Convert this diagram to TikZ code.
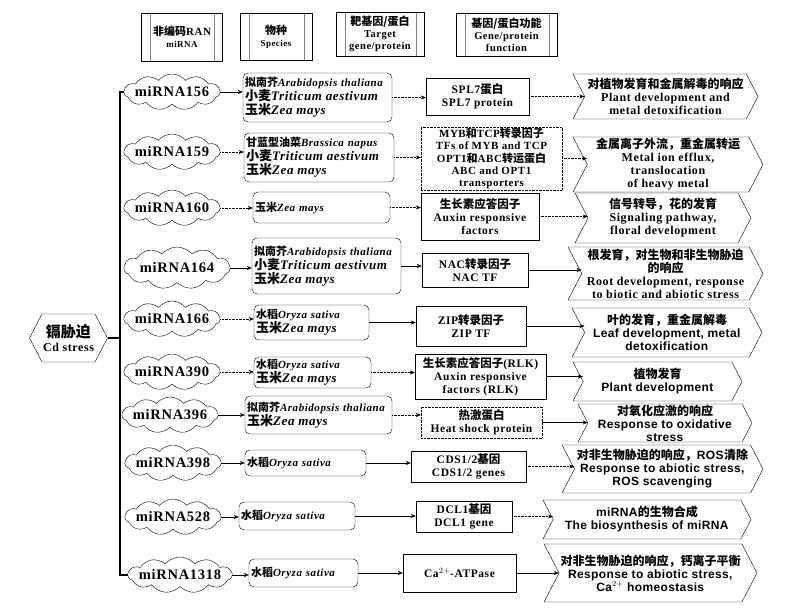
\documentclass[tikz,border=0pt]{standalone}
\usepackage{fontspec}
\setmainfont{Liberation Serif}[LetterSpace=5]
\setsansfont{Liberation Sans}[LetterSpace=3]
\newfontfamily\cjk{Noto Sans CJK SC}
\usetikzlibrary{arrows.meta, shapes.geometric, shapes.symbols, positioning}
\newcommand{\zh}[1]{{\cjk\bfseries #1}}
\newcommand{\sps}[2]{{\fontsize{11}{14}\selectfont\zh{#1}\textit{#2}}}
\newcommand{\spl}[2]{{\fontsize{13}{14}\selectfont\zh{#1}\textit{#2}}}

\begin{document}
\begin{tikzpicture}[
    x=1pt, y=-1pt,
    head/.style={rectangle, draw, align=center, inner sep=1pt, font=\bfseries\fontsize{10.5}{12}\selectfont,
        path picture={\draw[gray] ([xshift=9pt]path picture bounding box.north west) -- ([xshift=9pt]path picture bounding box.south west)
            ([xshift=-8pt]path picture bounding box.north east) -- ([xshift=-8pt]path picture bounding box.south east);}},
    stress/.style={signal, signal to=west and east, signal pointer angle=125, draw, align=center, inner sep=1pt, font=\bfseries\fontsize{12}{14}\selectfont},
    mir/.style={cloud, cloud puffs=11, cloud puff arc=100, aspect=2.6, draw, inner sep=0pt, minimum width=96pt, minimum height=36pt,
        label={[font=\bfseries\fontsize{14.5}{15}\selectfont]center:#1}},
    species/.style={rectangle, rounded corners=5pt, draw, align=left, inner sep=2pt, font=\bfseries\fontsize{11.5}{14}\selectfont},
    target/.style={rectangle, draw, align=center, inner sep=1pt, font=\bfseries\fontsize{11.5}{13}\selectfont},
    func/.style={signal, signal from=west, signal to=east, signal pointer angle=125, draw, align=center, inner sep=0pt, font=\bfseries\fontsize{12}{13}\selectfont},
    trunk/.style={line width=1.1pt},
    arrow/.style={-{Stealth[length=5pt, width=4pt]}},
    dotarrow/.style={arrow, densely dotted}
]
    \useasboundingbox (0,0) rectangle (812,611);

    \node[head, minimum width=81pt, minimum height=48pt] (hmir) at (182,37) {{\fontsize{11}{13}\selectfont\zh{非编码}RAN}\\{\fontsize{9}{11}\selectfont miRNA}};
    \node[head, minimum width=72pt, minimum height=47pt] (hsp) at (276,36.5) {{\fontsize{11}{13}\selectfont\zh{物种}}\\{\fontsize{9}{11}\selectfont Species}};
    \node[head, minimum width=88pt, minimum height=44pt] (htar) at (380,34) {{\fontsize{11}{13}\selectfont\zh{靶基因/蛋白}}\\Target\\gene/protein};
    \node[head, minimum width=101pt, minimum height=43pt] (hfun) at (506.5,34.5) {{\fontsize{11}{13}\selectfont\zh{基因/蛋白功能}}\\Gene/protein\\function};

    \node[stress, minimum width=77pt, minimum height=48pt] (cd) at (68.5,338) {{\fontsize{15}{17}\selectfont\zh{镉胁迫}}\\Cd stress};
    \coordinate (hub) at (120,338);

    \node[mir=miRNA156] (c156) at (172,92) {};
    \node[mir=miRNA159] (c159) at (172,152) {};
    \node[mir=miRNA160] (c160) at (172,208) {};
    \node[mir=miRNA164, minimum width=106pt, minimum height=42pt] (c164) at (177,268) {};
    \node[mir=miRNA166] (c166) at (172,319) {};
    \node[mir=miRNA390] (c390) at (172,372) {};
    \node[mir=miRNA396] (c396) at (170,415) {};
    \node[mir=miRNA398] (c398) at (173,463) {};
    \node[mir=miRNA528] (c528) at (173,517) {};
    \node[mir=miRNA1318, minimum width=104pt] (c1318) at (180,575) {};

    \node[species, text width=145pt, minimum height=49pt] (s156) at (317.5,97.5) {\sps{拟南芥}{Arabidopsis thaliana}\\\spl{小麦}{Triticum aestivum}\\\spl{玉米}{Zea mays}};
    \node[species, text width=146pt, minimum height=49pt] (s159) at (319,157.5) {\sps{甘蓝型油菜}{Brassica napus}\\\spl{小麦}{Triticum aestivum}\\\spl{玉米}{Zea mays}};
    \node[species, text width=133pt, minimum height=31pt] (s160) at (321.5,207.5) {\sps{玉米}{Zea mays}};
    \node[species, text width=145pt, minimum height=56pt] (s164) at (326.5,266) {\sps{拟南芥}{Arabidopsis thaliana}\\\spl{小麦}{Triticum aestivum}\\\spl{玉米}{Zea mays}};
    \node[species, text width=111pt, minimum height=35pt] (s166) at (311.5,322.5) {\sps{水稻}{Oryza sativa}\\\spl{玉米}{Zea mays}};
    \node[species, text width=113pt, minimum height=31pt] (s390) at (312.5,372.5) {\sps{水稻}{Oryza sativa}\\\spl{玉米}{Zea mays}};
    \node[species, text width=143pt, minimum height=38pt] (s396) at (318.5,415) {\sps{拟南芥}{Arabidopsis thaliana}\\\spl{玉米}{Zea mays}};
    \node[species, text width=117pt, minimum height=26pt] (s398) at (305.5,463) {\sps{水稻}{Oryza sativa}};
    \node[species, text width=112pt, minimum height=28pt] (s528) at (297,516) {\sps{水稻}{Oryza sativa}};
    \node[species, text width=105pt, minimum height=28pt] (s1318) at (303.5,573) {\sps{水稻}{Oryza sativa}};

    \node[target, minimum width=103pt, minimum height=37pt] (t156) at (477.5,96.5) {SPL7\zh{蛋白}\\SPL7 protein};
    \node[target, densely dotted, font=\bfseries\fontsize{11}{12.3}\selectfont, minimum width=141pt, minimum height=63pt] (t159) at (491.5,158.5) {MYB\zh{和}TCP\zh{转录因子}\\TFs of MYB and TCP\\OPT1\zh{和}ABC\zh{转运蛋白}\\ABC and OPT1\\transporters};
    \node[target, minimum width=118pt, minimum height=47pt] (t160) at (480,216.5) {\zh{生长素应答因子}\\Auxin responsive\\factors};
    \node[target, minimum width=106pt, minimum height=34pt] (t164) at (475,270) {NAC\zh{转录因子}\\NAC TF};
    \node[target, minimum width=110pt, minimum height=40pt] (t166) at (471,326) {ZIP\zh{转录因子}\\ZIP TF};
    \node[target, minimum width=131pt, minimum height=45pt] (t390) at (480.5,376.5) {\zh{生长素应答因子}(RLK)\\Auxin responsive\\factors (RLK)};
    \node[target, densely dotted, minimum width=121pt, minimum height=31pt] (t396) at (481.5,422.5) {\zh{热激蛋白}\\Heat shock protein};
    \node[target, minimum width=115pt, minimum height=31pt] (t398) at (468.5,466.5) {CDS1/2\zh{基因}\\CDS1/2 genes};
    \node[target, minimum width=96pt, minimum height=31pt] (t528) at (464,516.5) {DCL1\zh{基因}\\DCL1 gene};
    \node[target, minimum width=113pt, minimum height=38pt] (t1318) at (459.5,573) {Ca$^{2+}$-ATPase};

    \node[func, minimum width=185pt, minimum height=45pt] (f156) at (665.5,96.5) {\zh{对植物发育和金属解毒的响应}\\Plant development and\\metal detoxification};
    \node[func, minimum width=190pt, minimum height=55pt] (f159) at (668,164.5) {\zh{金属离子外流，重金属转运}\\Metal ion efflux,\\translocation\\of heavy metal};
    \node[func, minimum width=176pt, minimum height=50pt] (f160) at (663,218) {\zh{信号转导，花的发育}\\Signaling pathway,\\floral development};
    \node[func, minimum width=195pt, minimum height=53pt] (f164) at (665.5,273.5) {\zh{根发育，对生物和非生物胁迫}\\\zh{的响应}\\Root development, response\\to biotic and abiotic stress};
    \node[func, minimum width=190pt, minimum height=49pt] (f166) at (667,332.5) {\zh{叶的发育，重金属解毒}\\\textsf{Leaf development, metal}\\\textsf{detoxification}};
    \node[func, minimum width=169pt, minimum height=39pt] (f390) at (657.5,381.5) {\zh{植物发育}\\\textsf{Plant development}};
    \node[func, minimum width=174pt, minimum height=38pt] (f396) at (665,423) {\zh{对氧化应激的响应}\\\textsf{Response to oxidative}\\\textsf{stress}};
    \node[func, minimum width=201pt, minimum height=48pt] (f398) at (662.5,469) {\zh{对非生物胁迫的响应，}\textsf{ROS}\zh{清除}\\\textsf{Response to abiotic stress,}\\\textsf{ROS scavenging}};
    \node[func, minimum width=208pt, minimum height=39pt] (f528) at (647,519.5) {\textsf{miRNA}\zh{的生物合成}\\\textsf{The biosynthesis of miRNA}};
    \node[func, minimum width=213pt, minimum height=58pt] (f1318) at (650.5,573) {\zh{对非生物胁迫的响应，钙离子平衡}\\\textsf{Response to abiotic stress,}\\\textsf{Ca$^{2+}$ homeostasis}};

    \draw[trunk] (cd.east) -- (hub);
    \draw[trunk] (c156.west) -| (hub) |- (c1318.west);

    \draw[arrow] (c156.east) -- (c156.east -| s156.west);
    \draw[dotarrow] (s156.east) -- (s156.east -| t156.west);
    \draw[dotarrow] (t156.east) -- (t156.east -| f156.west);

    \draw[dotarrow] (c159.east) -- (c159.east -| s159.west);
    \draw[dotarrow] (s159.east) -- (s159.east -| t159.west);
    \draw[dotarrow] (t159.east) -- (t159.east -| f159.west);

    \draw[dotarrow] (c160.east) -- (c160.east -| s160.west);
    \draw[dotarrow] (s160.east) -- (s160.east -| t160.west);
    \draw[dotarrow] (t160.east) -- (t160.east -| f160.west);

    \draw[arrow] (c164.east) -- (c164.east -| s164.west);
    \draw[arrow] (s164.east) -- (s164.east -| t164.west);
    \draw[arrow] (t164.east) -- (t164.east -| f164.west);

    \draw[dotarrow] (c166.east) -- (c166.east -| s166.west);
    \draw[arrow] (s166.east) -- (s166.east -| t166.west);
    \draw[arrow] (t166.east) -- (t166.east -| f166.west);

    \draw[dotarrow] (c390.east) -- (c390.east -| s390.west);
    \draw[dotarrow] (s390.east) -- (s390.east -| t390.west);
    \draw[arrow] (t390.east) -- (t390.east -| f390.west);

    \draw[arrow] (c396.east) -- (c396.east -| s396.west);
    \draw[dotarrow] (s396.east) -- (s396.east -| t396.west);
    \draw[arrow] (t396.east) -- (t396.east -| f396.west);

    \draw[arrow] (c398.east) -- (c398.east -| s398.west);
    \draw[arrow] (s398.east) -- (s398.east -| t398.west);
    \draw[dotarrow] (t398.east) -- (t398.east -| f398.west);

    \draw[arrow] (c528.east) -- (c528.east -| s528.west);
    \draw[arrow] (s528.east) -- (s528.east -| t528.west);
    \draw[dotarrow] (t528.east) -- (t528.east -| f528.west);

    \draw[arrow] (c1318.east) -- (c1318.east -| s1318.west);
    \draw[arrow] (s1318.east) -- (s1318.east -| t1318.west);
    \draw[arrow] (t1318.east) -- (t1318.east -| f1318.west);
\end{tikzpicture}
\end{document}
